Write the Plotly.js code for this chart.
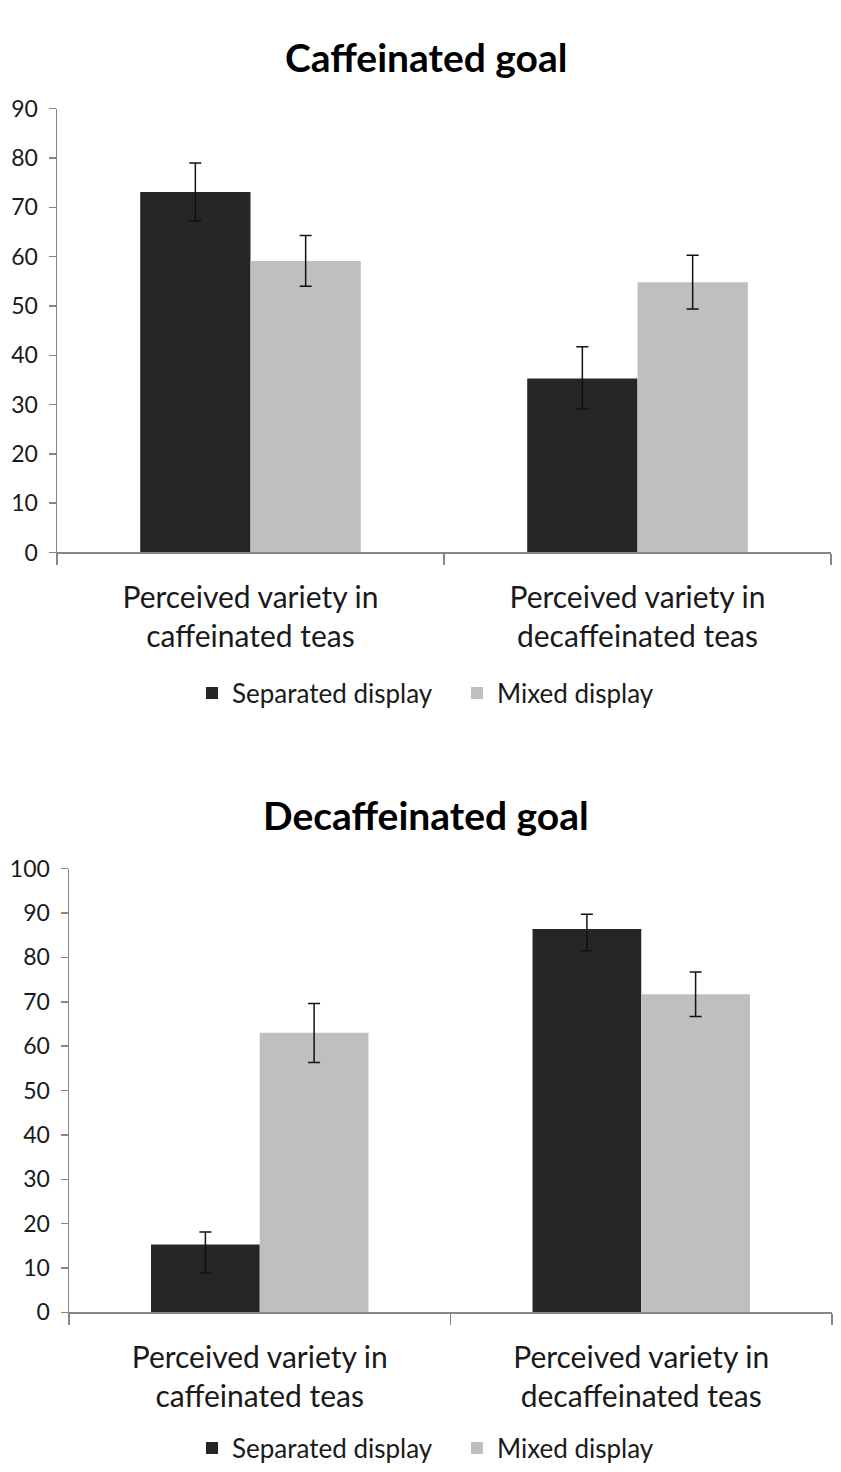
<!DOCTYPE html>
<html>
<head>
<meta charset="utf-8">
<script src="https://cdn.plot.ly/plotly-3.0.1.min.js"></script>
<style>html,body{margin:0;padding:0;background:#fff;}#chart{width:841px;height:1472px;}</style>
</head>
<body>
<div id="chart"></div>
<script>
const categories = ["Perceived variety in<br>caffeinated teas", "Perceived variety in<br>decaffeinated teas"];
const seriesNames = ["Separated display", "Mixed display"];
const seriesColors = ["#262626", "#bfbfbf"];

// Caffeinated goal
const cafSeparated = [73.1, 35.3];
const cafSeparatedErrPlus = [5.9, 6.4];
const cafSeparatedErrMinus = [5.8, 6.2];
const cafMixed = [59.1, 54.8];
const cafMixedErrPlus = [5.2, 5.5];
const cafMixedErrMinus = [5.1, 5.4];

// Decaffeinated goal
const decSeparated = [15.3, 86.4];
const decSeparatedErrPlus = [2.8, 3.3];
const decSeparatedErrMinus = [6.4, 4.9];
const decMixed = [63.0, 71.7];
const decMixedErrPlus = [6.6, 5.0];
const decMixedErrMinus = [6.7, 5.0];

const titles = ["Caffeinated goal", "Decaffeinated goal"];

const FONT = "Lato, 'Open Sans', sans-serif";

function barTrace(name, color, y, errP, errM, xa, ya, legend) {
  return {
    type: "bar", name: name, x: categories, y: y,
    xaxis: xa, yaxis: ya, legend: legend,
    marker: {color: color, line: {width: 0}},
    error_y: {type: "data", symmetric: false, array: errP, arrayminus: errM, visible: true,
      color: "#111", thickness: 1.5, width: 6}
  };
}

const data = [
  barTrace(seriesNames[0], seriesColors[0], cafSeparated, cafSeparatedErrPlus, cafSeparatedErrMinus, "x", "y", "legend"),
  barTrace(seriesNames[1], seriesColors[1], cafMixed, cafMixedErrPlus, cafMixedErrMinus, "x", "y", "legend"),
  barTrace(seriesNames[0], seriesColors[0], decSeparated, decSeparatedErrPlus, decSeparatedErrMinus, "x2", "y2", "legend2"),
  barTrace(seriesNames[1], seriesColors[1], decMixed, decMixedErrPlus, decMixedErrMinus, "x2", "y2", "legend2")
];

const H = 1472, W = 841;
function py(px) { return 1 - px / H; }
function pxX(px) { return px / W; }

const xCommon = {
  type: "category", showline: true, linecolor: "#868686", linewidth: 1.5,
  ticks: "outside", ticklen: 11, tickcolor: "#868686", tickwidth: 1.5,
  tickson: "boundaries", showgrid: false, zeroline: false, ticklabelstandoff: 18,
  tickfont: {family: FONT, size: 30, color: "#1a1a1a"}, fixedrange: true
};
const yCommon = {
  showline: true, linecolor: "#868686", linewidth: 1.5,
  ticks: "outside", ticklen: 7, tickcolor: "#868686", tickwidth: 1.5,
  showgrid: false, zeroline: false, dtick: 10, ticklabelstandoff: 6,
  tickfont: {family: FONT, size: 23, color: "#1a1a1a"}, fixedrange: true
};

const legendCommon = {orientation: "h", xanchor: "center", yanchor: "middle",
  font: {family: FONT, size: 26, color: "#1a1a1a"}, entrywidth: 220, traceorder: "normal"};

const layout = {
  width: W, height: H,
  margin: {l: 0, r: 0, t: 0, b: 0},
  paper_bgcolor: "#fff", plot_bgcolor: "#fff",
  barmode: "group", bargap: 0.43, bargroupgap: 0,
  font: {family: FONT, color: "#1a1a1a"},
  showlegend: true,
  xaxis: Object.assign({}, xCommon, {domain: [pxX(57), pxX(831)], anchor: "y"}),
  yaxis: Object.assign({}, yCommon, {domain: [py(554), py(109)], range: [0, 90], anchor: "x"}),
  xaxis2: Object.assign({}, xCommon, {domain: [pxX(69), pxX(832)], anchor: "y2"}),
  yaxis2: Object.assign({}, yCommon, {domain: [py(1316), py(871)], range: [0, 100], anchor: "x2"}),
  legend: Object.assign({}, legendCommon, {x: pxX(457), y: py(695)}),
  legend2: Object.assign({}, legendCommon, {x: pxX(457), y: py(1452)}),
  annotations: [
    {text: "<b>" + titles[0] + "</b>", xref: "paper", yref: "paper", x: pxX(426), y: py(57),
     xanchor: "center", yanchor: "middle", showarrow: false, font: {family: FONT, size: 39, color: "#000"}},
    {text: "<b>" + titles[1] + "</b>", xref: "paper", yref: "paper", x: pxX(426), y: py(817),
     xanchor: "center", yanchor: "middle", showarrow: false, font: {family: FONT, size: 39, color: "#000"}}
  ]
};

Plotly.newPlot("chart", data, layout, {displayModeBar: false, staticPlot: true});
</script>
</body>
</html>
